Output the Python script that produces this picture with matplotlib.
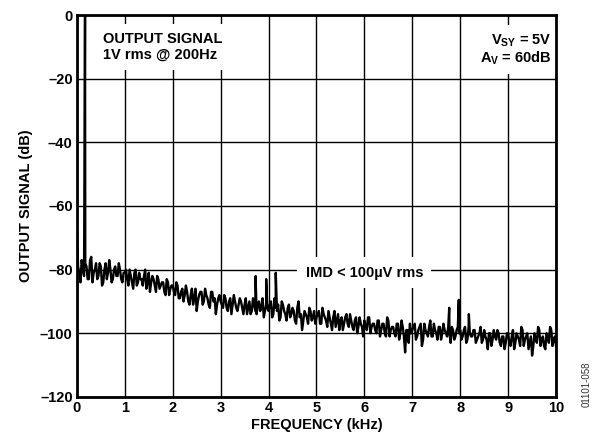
import numpy as np
import matplotlib
matplotlib.use("Agg")
import matplotlib.pyplot as plt

plt.rcParams['font.family'] = ['Liberation Sans', 'DejaVu Sans']
plt.rcParams['font.weight'] = 'bold'
plt.rcParams['mathtext.fontset'] = 'custom'
plt.rcParams['mathtext.rm'] = 'Liberation Sans:bold'
plt.rcParams['mathtext.it'] = 'Liberation Sans:bold'
plt.rcParams['mathtext.bf'] = 'Liberation Sans:bold'

# Noise floor sampled every 0.05 kHz from 0 to 10 kHz (dB)
freq_start, freq_stop, freq_count = 0.0, 10.0, 201
noise_db = [
    -67, -81, -77, -82, -79, -83, -76, -81, -78, -82, -79, -84, -78, -81, -80, -83, -79, -82, -80, -84,
    -81, -83, -80, -84, -81, -85, -81, -83, -82, -86, -81, -84, -83, -87, -83, -85, -84, -88, -84, -86,
    -85, -88, -85, -89, -86, -88, -87, -91, -86, -89, -93, -88, -87, -90, -88, -91, -87, -90, -94, -89,
    -90, -92, -89, -93, -89, -91, -90, -93, -89, -92, -91, -94, -90, -93, -91, -94, -90, -92, -95, -91,
    -93, -90, -94, -92, -91, -95, -91, -94, -92, -95, -92, -96, -92, -95, -99, -93, -95, -92, -96, -93,
    -95, -93, -97, -94, -96, -93, -97, -95, -98, -94, -96, -99, -95, -97, -94, -98, -96, -100, -95, -98,
    -96, -99, -95, -98, -97, -100, -96, -99, -97, -101, -96, -99, -98, -101, -97, -100, -98, -106, -99, -97,
    -99, -97, -101, -98, -104, -97, -100, -98, -101, -97, -100, -98, -102, -97, -100, -98, -103, -99, -101, -98,
    -99, -101, -98, -102, -100, -101, -99, -102, -100, -103, -99, -102, -100, -104, -99, -102, -100, -104, -101, -103,
    -100, -104, -99, -103, -101, -104, -99, -102, -100, -103, -107, -100, -103, -99, -102, -104, -100, -103, -99, -102,
    -104,
]
# Noise floor at the in-between bins (0.025 kHz, 0.075 kHz, ... 9.975 kHz)
mid_start, mid_stop, mid_count = 0.025, 9.975, 200
noise_mid_db = [
    -79, -84, -80, -78, -83, -77, -84, -80, -83, -78, -85, -80, -83, -77, -84, -80, -82, -78, -83, -81,
    -80, -85, -82, -86, -80, -84, -83, -85, -80, -84, -87, -82, -85, -82, -86, -84, -87, -83, -88, -85,
    -87, -84, -89, -87, -90, -85, -90, -88, -91, -86, -90, -87, -91, -86, -89, -92, -87, -89, -91, -88,
    -91, -88, -92, -90, -94, -88, -92, -91, -90, -94, -89, -92, -94, -89, -93, -91, -93, -89, -93, -92,
    -91, -95, -89, -93, -96, -90, -93, -96, -91, -94, -93, -97, -90, -94, -96, -94, -97, -93, -95, -97,
    -94, -97, -92, -95, -98, -95, -99, -93, -96, -99, -95, -97, -94, -98, -96, -99, -95, -98, -97, -101,
    -98, -95, -100, -97, -99, -96, -101, -97, -100, -95, -101, -98, -100, -97, -102, -96, -101, -99, -103, -100,
    -98, -102, -99, -97, -102, -99, -101, -96, -101, -99, -102, -98, -100, -99, -101, -100, -98, -102, -99, -100,
    -102, -99, -103, -98, -101, -99, -103, -101, -98, -102, -101, -105, -100, -102, -101, -99, -103, -101, -105, -100,
    -103, -101, -105, -100, -102, -98, -104, -101, -105, -101, -104, -102, -98, -104, -101, -105, -101, -98, -104, -101,
]

# Discrete tones (kHz, dB)
tone_freq = [0.17, 3.73, 3.95, 4.15, 7.77, 7.97, 8.18]
tone_db = [0.0, -82, -83, -81, -92, -89.5, -94]

x_ticks = [0, 1, 2, 3, 4, 5, 6, 7, 8, 9, 10]
y_ticks = [-120, -100, -80, -60, -40, -20, 0]

grid_f = np.linspace(freq_start, freq_stop, freq_count)
mid_f = np.linspace(mid_start, mid_stop, mid_count)
f = np.concatenate([grid_f, mid_f, tone_freq])
d = np.concatenate([noise_db, noise_mid_db, tone_db])
order = np.argsort(f, kind='stable')
f, d = f[order], d[order]

fig = plt.figure(figsize=(5.96, 4.42), dpi=100)
ax = fig.add_axes([0.129, 0.102, 0.804, 0.864])
ax.plot(f, d, color='black', lw=1.7, zorder=3, clip_on=True)

ax.set_xlim(0, 10)
ax.set_ylim(-120, 0)
ax.set_xticks(x_ticks)
ax.set_yticks(y_ticks)
ax.set_yticklabels(['\u2013' + str(abs(v)) if v < 0 else str(v) for v in y_ticks])
ax.tick_params(length=0, labelsize=10.5, pad=3)
for lab in ax.get_xticklabels() + ax.get_yticklabels():
    lab.set_fontweight('bold')
ax.grid(True, color='black', lw=1.0)
ax.set_axisbelow(True)
for s in ax.spines.values():
    s.set_linewidth(2.0)
    s.set_zorder(5)

ax.set_xlabel('FREQUENCY (kHz)', fontsize=10.5, fontweight='bold', labelpad=2)
ax.set_ylabel('OUTPUT SIGNAL (dB)', fontsize=10.5, fontweight='bold', labelpad=5)

ax.text(0.055, 0.955, 'OUTPUT SIGNAL\n1V rms @ 200Hz', transform=ax.transAxes,
        fontsize=10.5, fontweight='bold', va='top', ha='left', linespacing=1.1, zorder=4,
        bbox=dict(facecolor='white', edgecolor='none', pad=6))
ax.text(0.99, 0.955, 'V$_{\\mathrm{SY}}$ = 5V\nA$_{\\mathrm{V}}$ = 60dB', transform=ax.transAxes,
        fontsize=10.5, fontweight='bold', va='top', ha='right', linespacing=1.1, zorder=4,
        bbox=dict(facecolor='white', edgecolor='none', pad=5))
ax.text(6.0, -81, 'IMD < 100\u00b5V rms', fontsize=10.5, fontweight='bold',
        va='center', ha='center', zorder=4,
        bbox=dict(facecolor='white', edgecolor='none', pad=6))

fig.text(0.984, 0.13, '01101-058', rotation=90, fontsize=7, fontweight='normal',
         color='#333333', ha='center', va='center')

fig.savefig('out.png', dpi=100)
